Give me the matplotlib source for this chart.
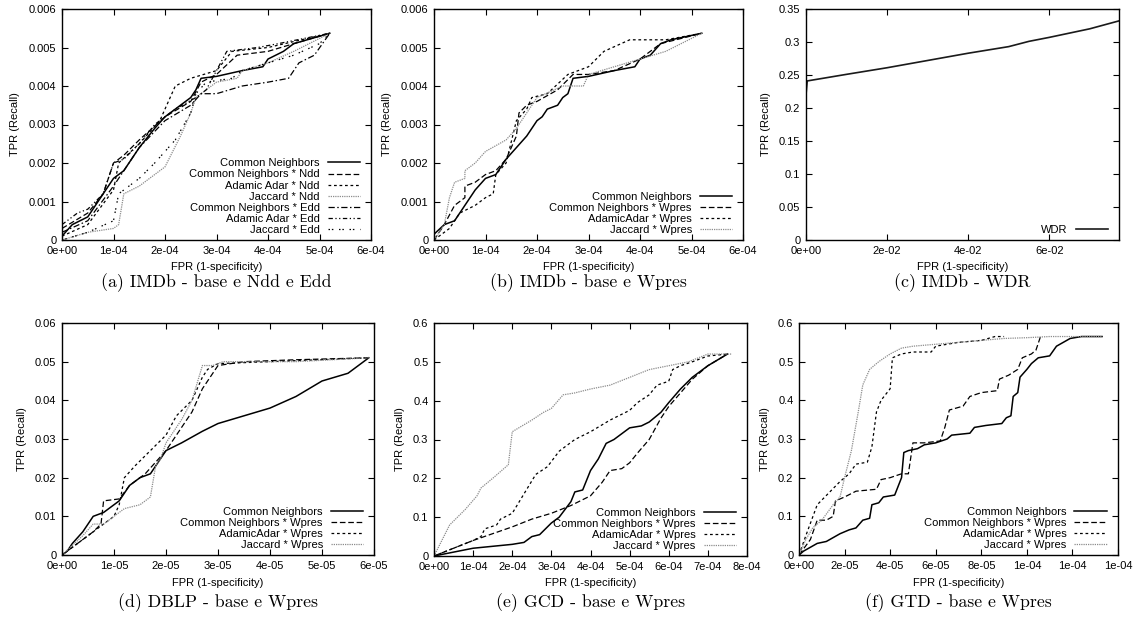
import matplotlib
matplotlib.use("Agg")
import matplotlib.pyplot as plt
from matplotlib.ticker import FuncFormatter, MultipleLocator
import numpy as np

# ---------------- data ----------------
# (a) IMDb - base e Ndd e Edd
A_CN_X = [0, 0.2e-4, 0.5e-4, 0.7e-4, 1.0e-4, 1.2e-4, 1.5e-4, 1.8e-4, 2.0e-4, 2.3e-4, 2.5e-4, 2.6e-4, 2.7e-4, 3.0e-4, 3.5e-4, 3.9e-4, 4.0e-4, 4.3e-4, 4.5e-4, 5.2e-4]
A_CN_Y = [0.0001, 0.0004, 0.0006, 0.0010, 0.0016, 0.0018, 0.0024, 0.0029, 0.0032, 0.0035, 0.0037, 0.0039, 0.0042, 0.00425, 0.0044, 0.0045, 0.0047, 0.0049, 0.0051, 0.00537]
A_CNN_X = [0, 0.5e-4, 0.8e-4, 1.0e-4, 1.2e-4, 1.5e-4, 2.0e-4, 2.5e-4, 2.7e-4, 3.0e-4, 3.4e-4, 4.0e-4, 4.5e-4, 5.2e-4]
A_CNN_Y = [0.0003, 0.0007, 0.0012, 0.0020, 0.0022, 0.0026, 0.0032, 0.0036, 0.0041, 0.0043, 0.0048, 0.0049, 0.0051, 0.00537]
A_AAN_X = [0, 0.5e-4, 1.0e-4, 1.1e-4, 1.5e-4, 1.9e-4, 2.2e-4, 2.5e-4, 3.0e-4, 3.3e-4, 4.0e-4, 5.2e-4]
A_AAN_Y = [0.0001, 0.0004, 0.0013, 0.0020, 0.0025, 0.0031, 0.0040, 0.0042, 0.0044, 0.0049, 0.0050, 0.00537]
A_JN_X = [0, 0.5e-4, 1.0e-4, 1.1e-4, 1.2e-4, 1.5e-4, 2.0e-4, 2.3e-4, 2.5e-4, 2.6e-4, 3.0e-4, 3.4e-4, 3.5e-4, 4.0e-4, 4.5e-4, 5.2e-4]
A_JN_Y = [0, 0.0002, 0.0003, 0.0004, 0.0012, 0.0014, 0.0019, 0.0027, 0.0033, 0.0037, 0.0041, 0.0042, 0.0044, 0.0046, 0.0049, 0.00537]
A_CNE_X = [0, 0.5e-4, 1.0e-4, 1.5e-4, 2.0e-4, 2.5e-4, 2.7e-4, 3.0e-4, 3.5e-4, 4.0e-4, 4.4e-4, 4.6e-4, 4.9e-4, 5.2e-4]
A_CNE_Y = [0.0002, 0.0005, 0.0014, 0.0024, 0.0031, 0.0035, 0.0038, 0.0038, 0.0040, 0.0041, 0.0042, 0.0046, 0.0048, 0.00537]
A_AAE_X = [0, 0.3e-4, 0.5e-4, 0.8e-4, 1.0e-4, 1.2e-4, 1.5e-4, 1.8e-4, 2.2e-4, 2.6e-4, 2.8e-4, 3.2e-4, 3.8e-4, 4.2e-4, 5.2e-4]
A_AAE_Y = [0.0004, 0.0007, 0.0008, 0.0012, 0.0020, 0.0021, 0.0025, 0.0030, 0.0034, 0.0037, 0.0039, 0.0049, 0.0050, 0.0051, 0.00537]
A_JE_X = [0, 0.5e-4, 1.0e-4, 1.1e-4, 1.5e-4, 1.8e-4, 2.2e-4, 2.5e-4, 2.6e-4, 2.8e-4, 3.3e-4, 3.5e-4, 4.0e-4, 4.5e-4, 5.0e-4, 5.2e-4]
A_JE_Y = [0, 0.0002, 0.0005, 0.0012, 0.0016, 0.0020, 0.0026, 0.0033, 0.0038, 0.0041, 0.0042, 0.0044, 0.0046, 0.0048, 0.0051, 0.00537]

# (b) IMDb - base e Wpres
B_CN_X = [0, 0.2e-4, 0.4e-4, 0.5e-4, 0.8e-4, 1.0e-4, 1.2e-4, 1.4e-4, 1.6e-4, 1.8e-4, 2.0e-4, 2.1e-4, 2.2e-4, 2.4e-4, 2.5e-4, 2.6e-4, 2.7e-4, 3.0e-4, 3.5e-4, 3.9e-4, 4.0e-4, 4.2e-4, 4.4e-4, 4.6e-4, 5.2e-4]
B_CN_Y = [0.00015, 0.0004, 0.0005, 0.0007, 0.0013, 0.0016, 0.0017, 0.0021, 0.0024, 0.0027, 0.0031, 0.0032, 0.0034, 0.0035, 0.0037, 0.0038, 0.0042, 0.00425, 0.0044, 0.0045, 0.0047, 0.0048, 0.0051, 0.0052, 0.00537]
B_CNW_X = [0, 0.2e-4, 0.4e-4, 0.6e-4, 0.6e-4, 0.8e-4, 1.0e-4, 1.2e-4, 1.4e-4, 1.6e-4, 1.65e-4, 1.8e-4, 2.0e-4, 2.4e-4, 2.7e-4, 3.0e-4, 3.5e-4, 4.0e-4, 4.4e-4, 5.2e-4]
B_CNW_Y = [0, 0.0004, 0.0009, 0.0011, 0.0014, 0.0015, 0.0017, 0.0018, 0.0021, 0.0027, 0.0033, 0.0035, 0.0036, 0.0039, 0.0043, 0.0043, 0.0044, 0.0047, 0.0051, 0.00537]
B_AAW_X = [0, 0.3e-4, 0.5e-4, 0.8e-4, 1.0e-4, 1.15e-4, 1.2e-4, 1.4e-4, 1.6e-4, 1.8e-4, 1.9e-4, 2.2e-4, 2.6e-4, 3.0e-4, 3.3e-4, 3.8e-4, 4.5e-4, 5.2e-4]
B_AAW_Y = [0, 0.0003, 0.0007, 0.0009, 0.0011, 0.0012, 0.0017, 0.0020, 0.0031, 0.0034, 0.0037, 0.0038, 0.0043, 0.0045, 0.0049, 0.0052, 0.0052, 0.00537]
B_JW_X = [0, 0.2e-4, 0.3e-4, 0.4e-4, 0.6e-4, 0.6e-4, 0.8e-4, 1.0e-4, 1.4e-4, 1.6e-4, 1.8e-4, 2.0e-4, 2.5e-4, 2.9e-4, 3.0e-4, 3.5e-4, 4.0e-4, 4.5e-4, 5.2e-4]
B_JW_Y = [0, 0.0004, 0.0011, 0.0015, 0.0016, 0.0018, 0.0020, 0.0023, 0.0026, 0.0029, 0.0033, 0.0037, 0.0040, 0.0040, 0.0043, 0.0045, 0.0047, 0.0049, 0.00537]

# (c) IMDb - WDR
C_WDR_X = [0, 0.0003, 0.01, 0.02, 0.03, 0.04, 0.05, 0.055, 0.06, 0.07, 0.0772]
C_WDR_Y = [0.22, 0.241, 0.251, 0.261, 0.272, 0.283, 0.293, 0.301, 0.307, 0.320, 0.332]

# (d) DBLP - base e Wpres
D_CN_X = [0, 0.1e-5, 0.2e-5, 0.4e-5, 0.6e-5, 0.8e-5, 1.0e-5, 1.1e-5, 1.3e-5, 1.5e-5, 1.7e-5, 1.9e-5, 2.0e-5, 2.3e-5, 2.7e-5, 3.0e-5, 3.5e-5, 4.0e-5, 4.5e-5, 5.0e-5, 5.5e-5, 5.7e-5, 5.9e-5]
D_CN_Y = [0, 0.001, 0.003, 0.006, 0.010, 0.011, 0.013, 0.014, 0.018, 0.020, 0.021, 0.025, 0.027, 0.029, 0.032, 0.034, 0.036, 0.038, 0.041, 0.045, 0.047, 0.049, 0.051]
D_CNW_X = [0, 0.3e-5, 0.6e-5, 0.75e-5, 0.8e-5, 1.1e-5, 1.3e-5, 1.6e-5, 2.0e-5, 2.2e-5, 2.5e-5, 2.7e-5, 2.9e-5, 3.0e-5, 3.5e-5, 4.5e-5, 5.9e-5]
D_CNW_Y = [0, 0.003, 0.006, 0.008, 0.014, 0.0145, 0.018, 0.021, 0.027, 0.031, 0.037, 0.043, 0.047, 0.049, 0.050, 0.0505, 0.051]
D_AAW_X = [0, 0.4e-5, 0.8e-5, 1.0e-5, 1.1e-5, 1.2e-5, 1.4e-5, 1.7e-5, 2.0e-5, 2.2e-5, 2.5e-5, 2.7e-5, 2.8e-5, 3.0e-5, 4.0e-5, 5.9e-5]
D_AAW_Y = [0, 0.004, 0.008, 0.010, 0.013, 0.020, 0.023, 0.027, 0.031, 0.036, 0.040, 0.046, 0.048, 0.0495, 0.050, 0.051]
D_JW_X = [0, 0.4e-5, 0.6e-5, 0.8e-5, 1.0e-5, 1.2e-5, 1.5e-5, 1.7e-5, 1.8e-5, 1.9e-5, 2.0e-5, 2.3e-5, 2.5e-5, 2.7e-5, 2.9e-5, 3.1e-5, 4.5e-5, 5.9e-5]
D_JW_Y = [0, 0.005, 0.008, 0.008, 0.010, 0.012, 0.013, 0.015, 0.023, 0.025, 0.029, 0.035, 0.040, 0.049, 0.049, 0.050, 0.050, 0.051]

# (e) GCD - base e Wpres
E_CN_X = [0, 1.0e-4, 2.0e-4, 2.3e-4, 2.5e-4, 2.7e-4, 3.0e-4, 3.2e-4, 3.5e-4, 3.6e-4, 3.8e-4, 4.0e-4, 4.2e-4, 4.4e-4, 4.6e-4, 4.8e-4, 5.0e-4, 5.3e-4, 5.5e-4, 5.8e-4, 6.0e-4, 6.3e-4, 6.6e-4, 7.0e-4, 7.5e-4]
E_CN_Y = [0, 0.02, 0.03, 0.035, 0.05, 0.055, 0.085, 0.10, 0.14, 0.165, 0.17, 0.22, 0.25, 0.29, 0.30, 0.315, 0.33, 0.335, 0.345, 0.37, 0.395, 0.43, 0.46, 0.49, 0.52]
E_CNW_X = [0, 1.0e-4, 2.0e-4, 2.5e-4, 3.0e-4, 3.5e-4, 4.0e-4, 4.3e-4, 4.5e-4, 4.8e-4, 5.0e-4, 5.2e-4, 5.5e-4, 5.8e-4, 6.0e-4, 6.3e-4, 6.6e-4, 7.0e-4, 7.5e-4]
E_CNW_Y = [0, 0.04, 0.075, 0.095, 0.11, 0.13, 0.155, 0.19, 0.22, 0.225, 0.24, 0.265, 0.30, 0.355, 0.385, 0.42, 0.455, 0.49, 0.52]
E_AAW_X = [0, 1.0e-4, 1.2e-4, 1.3e-4, 1.6e-4, 1.7e-4, 2.0e-4, 2.3e-4, 2.6e-4, 2.9e-4, 3.2e-4, 3.6e-4, 4.0e-4, 4.5e-4, 5.0e-4, 5.2e-4, 5.5e-4, 5.7e-4, 6.0e-4, 6.1e-4, 6.3e-4, 6.6e-4, 7.0e-4, 7.5e-4]
E_AAW_Y = [0, 0.04, 0.05, 0.07, 0.08, 0.095, 0.11, 0.16, 0.21, 0.23, 0.27, 0.30, 0.32, 0.35, 0.375, 0.395, 0.415, 0.44, 0.45, 0.48, 0.49, 0.50, 0.515, 0.52]
E_JW_X = [0, 0.4e-4, 0.8e-4, 1.1e-4, 1.2e-4, 1.5e-4, 1.9e-4, 2.0e-4, 2.5e-4, 2.8e-4, 3.0e-4, 3.3e-4, 3.6e-4, 4.0e-4, 4.5e-4, 5.0e-4, 5.5e-4, 6.0e-4, 6.5e-4, 7.0e-4, 7.6e-4]
E_JW_Y = [0, 0.08, 0.12, 0.155, 0.175, 0.20, 0.235, 0.32, 0.35, 0.37, 0.38, 0.415, 0.42, 0.43, 0.44, 0.46, 0.48, 0.49, 0.50, 0.52, 0.52]

# (f) GTD - base e Wpres
F_CN_X = [0, 0.2e-5, 0.5e-5, 0.8e-5, 1.2e-5, 1.5e-5, 1.8e-5, 2.2e-5, 2.5e-5, 2.8e-5, 3.1e-5, 3.2e-5, 3.5e-5, 3.7e-5, 4.2e-5, 4.5e-5, 4.6e-5, 4.8e-5, 5.2e-5, 5.5e-5, 6.0e-5, 6.5e-5, 6.7e-5, 7.5e-5, 7.7e-5, 8.2e-5, 8.9e-5, 9.1e-5, 9.3e-5, 9.4e-5, 9.6e-5, 9.7e-5, 1.0e-4, 1.02e-4, 1.05e-4, 1.1e-4, 1.13e-4, 1.16e-4, 1.19e-4, 1.24e-4, 1.33e-4]
F_CN_Y = [0, 0.01, 0.02, 0.03, 0.035, 0.045, 0.055, 0.065, 0.07, 0.09, 0.095, 0.13, 0.135, 0.15, 0.155, 0.20, 0.265, 0.27, 0.275, 0.285, 0.29, 0.30, 0.31, 0.315, 0.33, 0.335, 0.34, 0.355, 0.36, 0.41, 0.42, 0.46, 0.48, 0.495, 0.51, 0.515, 0.54, 0.55, 0.56, 0.565, 0.565]
F_CNW_X = [0, 0.5e-5, 0.8e-5, 1.2e-5, 1.5e-5, 1.6e-5, 2.0e-5, 2.5e-5, 3.4e-5, 3.6e-5, 4.0e-5, 4.5e-5, 4.8e-5, 5.0e-5, 5.5e-5, 6.2e-5, 6.4e-5, 6.6e-5, 7.2e-5, 7.5e-5, 8.0e-5, 8.7e-5, 8.8e-5, 9.2e-5, 9.6e-5, 9.8e-5, 1.02e-4, 1.04e-4, 1.06e-4]
F_CNW_Y = [0, 0.04, 0.09, 0.09, 0.10, 0.14, 0.15, 0.165, 0.17, 0.195, 0.20, 0.21, 0.21, 0.29, 0.29, 0.295, 0.33, 0.375, 0.385, 0.41, 0.42, 0.425, 0.455, 0.465, 0.48, 0.51, 0.52, 0.53, 0.565]
F_AAW_X = [0, 0.3e-5, 0.8e-5, 1.3e-5, 1.8e-5, 2.2e-5, 2.5e-5, 3.0e-5, 3.2e-5, 3.4e-5, 3.6e-5, 4.0e-5, 4.1e-5, 4.5e-5, 5.0e-5, 5.8e-5, 6.0e-5, 6.5e-5, 7.0e-5, 8.0e-5, 8.6e-5, 9.0e-5]
F_AAW_Y = [0, 0.05, 0.13, 0.16, 0.19, 0.21, 0.235, 0.24, 0.28, 0.37, 0.40, 0.43, 0.51, 0.52, 0.525, 0.525, 0.54, 0.545, 0.55, 0.555, 0.565, 0.565]
F_JW_X = [0, 0.3e-5, 0.6e-5, 1.0e-5, 1.5e-5, 1.8e-5, 2.0e-5, 2.3e-5, 2.6e-5, 2.8e-5, 3.1e-5, 3.5e-5, 4.0e-5, 4.5e-5, 5.0e-5, 6.0e-5, 7.0e-5, 8.0e-5, 9.0e-5, 1.0e-4, 1.1e-4, 1.33e-4]
F_JW_Y = [0, 0.04, 0.07, 0.09, 0.13, 0.15, 0.20, 0.27, 0.37, 0.44, 0.48, 0.50, 0.52, 0.535, 0.54, 0.545, 0.55, 0.555, 0.56, 0.562, 0.565, 0.565]

LBL_CN = "Common Neighbors"
CAPTIONS = ["(a) IMDb - base e Ndd e Edd", "(b) IMDb - base e Wpres", "(c) IMDb - WDR",
            "(d) DBLP - base e Wpres", "(e) GCD - base e Wpres", "(f) GTD - base e Wpres"]

# ---------------- styles ----------------
SANS = "Liberation Sans"
FS = 8
GRAY = "#8c8c8c"
ST_SOLID = dict(color="black", lw=1.1, ls="-")
ST_DASH = dict(color="black", lw=0.9, ls=(0, (4.5, 2.2)))
ST_SDASH = dict(color="black", lw=0.9, ls=(0, (2.2, 2.2)))
ST_GDOT = dict(color=GRAY, lw=0.9, ls=(0, (1, 0.8)))
ST_DDOT = dict(color="black", lw=0.9, ls=(0, (5, 2, 1.2, 2)))
ST_DDDOT = dict(color="black", lw=0.9, ls=(0, (3.5, 2, 1, 2, 1, 2)))
ST_SPARSE = dict(color="black", lw=0.9, ls=(0, (1.2, 1.5, 1.2, 4.5)))

W, H = 1136, 620
fig = plt.figure(figsize=(W / 100, H / 100), dpi=100)


def make_ax(l, r, t, b):
    return fig.add_axes([l / W, 1 - b / H, (r - l) / W, (b - t) / H])


def style(ax, xmax, xstep, ymax, ystep, xfmt="%.0e"):
    ax.set_xlim(0, xmax)
    ax.set_ylim(0, ymax)
    ax.xaxis.set_major_locator(MultipleLocator(xstep))
    ax.yaxis.set_major_locator(MultipleLocator(ystep))
    ax.xaxis.set_major_formatter(FuncFormatter(lambda v, p: xfmt % (0 if abs(v) < 1e-15 else v)))
    ax.yaxis.set_major_formatter(FuncFormatter(lambda v, p: "%g" % round(v, 10)))
    ax.tick_params(direction="in", top=True, right=True, length=4, width=0.8,
                   labelsize=FS, pad=4)
    for lab in ax.get_xticklabels() + ax.get_yticklabels():
        lab.set_fontfamily(SANS)
    for s in ax.spines.values():
        s.set_linewidth(1.0)
    ax.set_xlabel("FPR (1-specificity)", fontsize=FS, family=SANS, labelpad=5)
    ax.set_ylabel("TPR (Recall)", fontsize=FS, family=SANS, labelpad=6)


def legend(ax):
    ax.legend(loc="lower right", bbox_to_anchor=(0.98, 0.0), frameon=False,
              markerfirst=False, prop={"family": SANS, "size": FS},
              handlelength=2.9, handletextpad=0.7, labelspacing=0.1,
              borderaxespad=0.25, borderpad=0.2)


def caption(ax, text, y):
    pos = ax.get_position()
    fig.text((pos.x0 + pos.x1) / 2, 1 - y / H, text, ha="center", va="center",
             fontsize=12.8, family="cmr10")


# (a)
ax = make_ax(62, 371, 9, 240)
ax.plot(A_CN_X, A_CN_Y, label=LBL_CN, **ST_SOLID)
ax.plot(A_CNN_X, A_CNN_Y, label="Common Neighbors * Ndd", **ST_DASH)
ax.plot(A_AAN_X, A_AAN_Y, label="Adamic Adar * Ndd", **ST_SDASH)
ax.plot(A_JN_X, A_JN_Y, label="Jaccard * Ndd", **ST_GDOT)
ax.plot(A_CNE_X, A_CNE_Y, label="Common Neighbors * Edd", **ST_DDOT)
ax.plot(A_AAE_X, A_AAE_Y, label="Adamic Adar * Edd", **ST_DDDOT)
ax.plot(A_JE_X, A_JE_Y, label="Jaccard * Edd", **ST_SPARSE)
style(ax, 6e-4, 1e-4, 0.006, 0.001)
legend(ax)
caption(ax, CAPTIONS[0], 283)

# (b)
ax = make_ax(434, 743, 9, 240)
ax.plot(B_CN_X, B_CN_Y, label=LBL_CN, **ST_SOLID)
ax.plot(B_CNW_X, B_CNW_Y, label="Common Neighbors * Wpres", **ST_DASH)
ax.plot(B_AAW_X, B_AAW_Y, label="AdamicAdar * Wpres", **ST_SDASH)
ax.plot(B_JW_X, B_JW_Y, label="Jaccard * Wpres", **ST_GDOT)
style(ax, 6e-4, 1e-4, 0.006, 0.001)
legend(ax)
caption(ax, CAPTIONS[1], 283)

# (c)
ax = make_ax(806, 1119, 9, 240)
ax.plot(C_WDR_X, C_WDR_Y, label="WDR", color="#1a1a1a", lw=1.2)
style(ax, 0.0772, 0.02, 0.35, 0.05)
legend(ax)
caption(ax, CAPTIONS[2], 283)

# (d)
ax = make_ax(62, 374, 323, 555)
ax.plot(D_CN_X, D_CN_Y, label=LBL_CN, **ST_SOLID)
ax.plot(D_CNW_X, D_CNW_Y, label="Common Neighbors * Wpres", **ST_DASH)
ax.plot(D_AAW_X, D_AAW_Y, label="AdamicAdar * Wpres", **ST_SDASH)
ax.plot(D_JW_X, D_JW_Y, label="Jaccard * Wpres", **ST_GDOT)
style(ax, 6e-5, 1e-5, 0.06, 0.01)
legend(ax)
caption(ax, CAPTIONS[3], 603)

# (e)
ax = make_ax(434, 747, 323, 556)
ax.plot(E_CN_X, E_CN_Y, label=LBL_CN, **ST_SOLID)
ax.plot(E_CNW_X, E_CNW_Y, label="Common Neighbors * Wpres", **ST_DASH)
ax.plot(E_AAW_X, E_AAW_Y, label="AdamicAdar * Wpres", **ST_SDASH)
ax.plot(E_JW_X, E_JW_Y, label="Jaccard * Wpres", **ST_GDOT)
style(ax, 8e-4, 1e-4, 0.6, 0.1)
legend(ax)
caption(ax, CAPTIONS[4], 603)

# (f)
ax = make_ax(799, 1118, 323, 555)
ax.plot(F_CN_X, F_CN_Y, label=LBL_CN, **ST_SOLID)
ax.plot(F_CNW_X, F_CNW_Y, label="Common Neighbors * Wpres", **ST_DASH)
ax.plot(F_AAW_X, F_AAW_Y, label="AdamicAdar * Wpres", **ST_SDASH)
ax.plot(F_JW_X, F_JW_Y, label="Jaccard * Wpres", **ST_GDOT)
style(ax, 1.4e-4, 2e-5, 0.6, 0.1)
legend(ax)
caption(ax, CAPTIONS[5], 603)

fig.savefig("out.png", dpi=100)
